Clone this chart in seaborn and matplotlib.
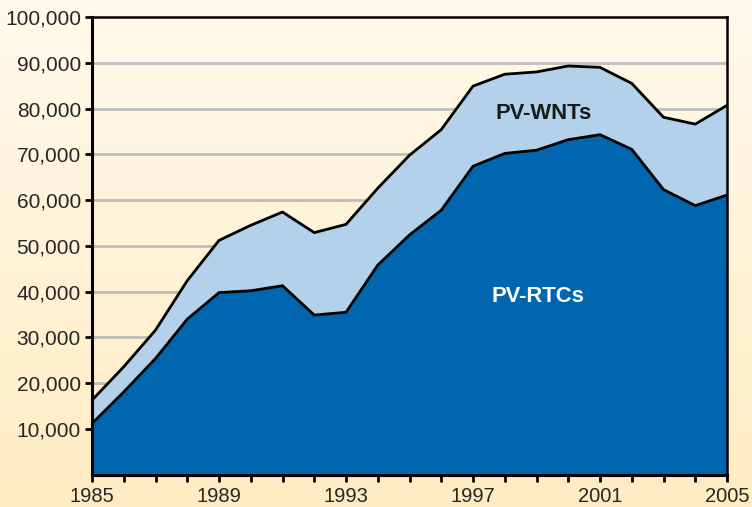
import numpy as np
import pandas as pd
import matplotlib
matplotlib.use("Agg")
import matplotlib.pyplot as plt
import seaborn as sns
from matplotlib.colors import LinearSegmentedColormap
from matplotlib.ticker import FuncFormatter

years = list(range(1985, 2006))
rtcs = [11200, 18100, 25400, 34000, 39800, 40200, 41300, 34900, 35500, 45800,
        52400, 57800, 67400, 70200, 70900, 73200, 74300, 71100, 62300, 58800, 61100]
total = [16300, 23600, 31600, 42400, 51200, 54500, 57400, 52900, 54700, 62600,
         69800, 75400, 84900, 87500, 88000, 89300, 89000, 85500, 78100, 76600, 80700]
wnts = [t - r for t, r in zip(total, rtcs)]
xtick_labels = ["1985", "1989", "1993", "1997", "2001", "2005"]
ytick_values = [10000, 20000, 30000, 40000, 50000, 60000, 70000, 80000, 90000, 100000]

df = pd.DataFrame({"year": years, "PV-RTCs": rtcs, "PV-WNTs": wnts, "total": total})

sns.set_style("white")
plt.rcParams["font.family"] = ["Liberation Sans", "DejaVu Sans"]

fig = plt.figure(figsize=(7.52, 5.07), dpi=100)
# gradient background
bg = fig.add_axes([0, 0, 1, 1], zorder=-10)
cmap = LinearSegmentedColormap.from_list("bg", ["#FFF9EC", "#FFECC2"])
grad = np.linspace(0, 1, 256).reshape(-1, 1)
bg.imshow(grad, aspect="auto", cmap=cmap, extent=[0, 1, 0, 1], origin="upper")
bg.set_axis_off()

ax = fig.add_axes([92 / 752, (507 - 474.8) / 507, (727 - 92) / 752, (474.8 - 17) / 507])
ax.set_facecolor("none")

for y in ytick_values[:-1]:
    ax.axhline(y, color="#BDBDBD", lw=2, zorder=0)

ax.stackplot(df["year"], df["PV-RTCs"], df["PV-WNTs"],
             colors=["#0066B0", "#B3D1EA"], zorder=1, lw=0)
sns.lineplot(data=df, x="year", y="PV-RTCs", color="black", lw=2, ax=ax, zorder=2)
sns.lineplot(data=df, x="year", y="total", color="black", lw=2, ax=ax, zorder=2)

ax.set_xlim(1985, 2005)
ax.set_ylim(0, 100000)
ax.set_xlabel("")
ax.set_ylabel("")
ax.set_xticks(years, minor=True)
ax.set_xticks([int(s) for s in xtick_labels])
ax.set_xticklabels(xtick_labels)
ax.set_yticks(ytick_values)
ax.yaxis.set_major_formatter(FuncFormatter(lambda v, p: f"{int(v):,}"))
ax.tick_params(axis="x", which="both", direction="out", length=5, width=2,
               color="black", labelsize=14.5, pad=4, bottom=True)
ax.tick_params(axis="y", which="both", direction="out", length=5, width=2,
               color="black", labelsize=15, pad=3, left=True)
for s in ["left", "bottom"]:
    ax.spines[s].set_linewidth(2.2)
    ax.spines[s].set_color("black")
for s in ["top", "right"]:
    ax.spines[s].set_linewidth(1.8)
    ax.spines[s].set_color("black")
    ax.spines[s].set_visible(True)
for sp in ax.spines.values():
    sp.set_zorder(5)

ax.text(1999.24, 79000, "PV-WNTs", ha="center", va="center", fontsize=15.8,
        fontweight="bold", color="#1a1a1a", zorder=6)
ax.text(1999.04, 38900, "PV-RTCs", ha="center", va="center", fontsize=15.8,
        fontweight="bold", color="white", zorder=6)

fig.savefig("out.png", dpi=100)
